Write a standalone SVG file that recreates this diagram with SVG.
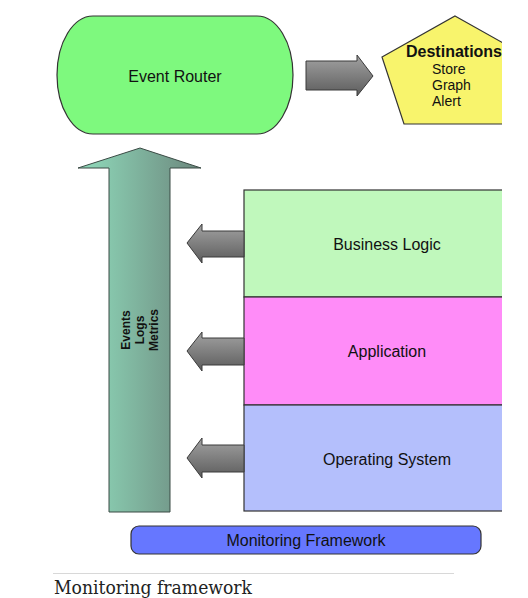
<svg xmlns="http://www.w3.org/2000/svg" width="528" height="598" viewBox="0 0 528 598">
<defs>
<clipPath id="clip"><rect x="0" y="0" width="502" height="560"/></clipPath>
<linearGradient id="gUp" x1="0" y1="0" x2="1" y2="0">
<stop offset="0" stop-color="#90dcbc"/>
<stop offset="1" stop-color="#6c877d"/>
</linearGradient>
<linearGradient id="gGray" x1="0" y1="0" x2="0" y2="1">
<stop offset="0" stop-color="#a2a2a2"/>
<stop offset="1" stop-color="#5c5c5c"/>
</linearGradient>
<style>
.lbl{font-family:"Liberation Sans",Arial,sans-serif;font-size:16px;fill:#111;text-anchor:middle}
.sm{font-family:"Liberation Sans",Arial,sans-serif;font-size:14px;fill:#111}
.node{stroke:#333;stroke-width:1.2}
.garrow{fill:url(#gGray);stroke:#3a3a3a;stroke-width:1}
</style>
</defs>
<rect width="528" height="598" fill="#fff"/>
<g clip-path="url(#clip)">
<g id="event-router">
<rect class="node" x="57" y="16" width="236" height="118" rx="36" ry="59" fill="#7ef97e"/>
<text class="lbl" x="175" y="82">Event Router</text>
</g>
<g id="destinations">
<polygon class="node" points="455,16 528,57 503,124 404,124 382,57" fill="#f8f46c"/>
<text x="406" y="57" font-family="Liberation Sans,Arial,sans-serif" font-size="16" font-weight="bold" fill="#111">Destinations</text>
<text class="sm" x="432" y="74">Store</text>
<text class="sm" x="432" y="90">Graph</text>
<text class="sm" x="432" y="106">Alert</text>
</g>
<g id="business-logic">
<rect class="node" x="244" y="190" width="270" height="107" fill="#c0f8bc"/>
<text class="lbl" x="387" y="250">Business Logic</text>
</g>
<g id="application">
<rect class="node" x="244" y="297" width="270" height="108" fill="#ff8cf8"/>
<text class="lbl" x="387" y="357">Application</text>
</g>
<g id="operating-system">
<rect class="node" x="244" y="405" width="270" height="106" fill="#b4bffc"/>
<text class="lbl" x="387" y="465">Operating System</text>
</g>
<g id="events-flow">
<polygon points="140,148 201,168 170,168 170,512 109,512 109,168 78,168" fill="url(#gUp)" stroke="#3a4a44" stroke-width="1"/>
<text transform="translate(140,330) rotate(-90)" font-family="Liberation Sans,Arial,sans-serif" font-size="12" font-weight="bold" fill="#111" text-anchor="middle">
<tspan x="0" y="-10">Events</tspan><tspan x="0" y="4">Logs</tspan><tspan x="0" y="18">Metrics</tspan>
</text>
</g>
<g id="monitoring-framework">
<rect class="node" x="131" y="526" width="350" height="28" rx="8" fill="#6677ff"/>
<text class="lbl" x="306" y="546">Monitoring Framework</text>
</g>
<g id="connectors">
<polygon class="garrow" points="306,61 357,61 357,55 373,76 357,96 357,90 306,90"/>
<polygon class="garrow" points="244,231 202,231 202,224 187,243 202,263 202,257 244,257"/>
<polygon class="garrow" points="244,338 202,338 202,332 187,351 202,371 202,365 244,365"/>
<polygon class="garrow" points="244,445 202,445 202,438 187,458 202,478 202,472 244,472"/>
</g>
</g>
<line x1="53" y1="573.5" x2="454" y2="573.5" stroke="#d8d8d8" stroke-width="1"/>
<text x="54" y="594" font-family="DejaVu Serif,Liberation Serif,serif" font-size="18" fill="#222" textLength="198" lengthAdjust="spacingAndGlyphs">Monitoring framework</text>
</svg>
